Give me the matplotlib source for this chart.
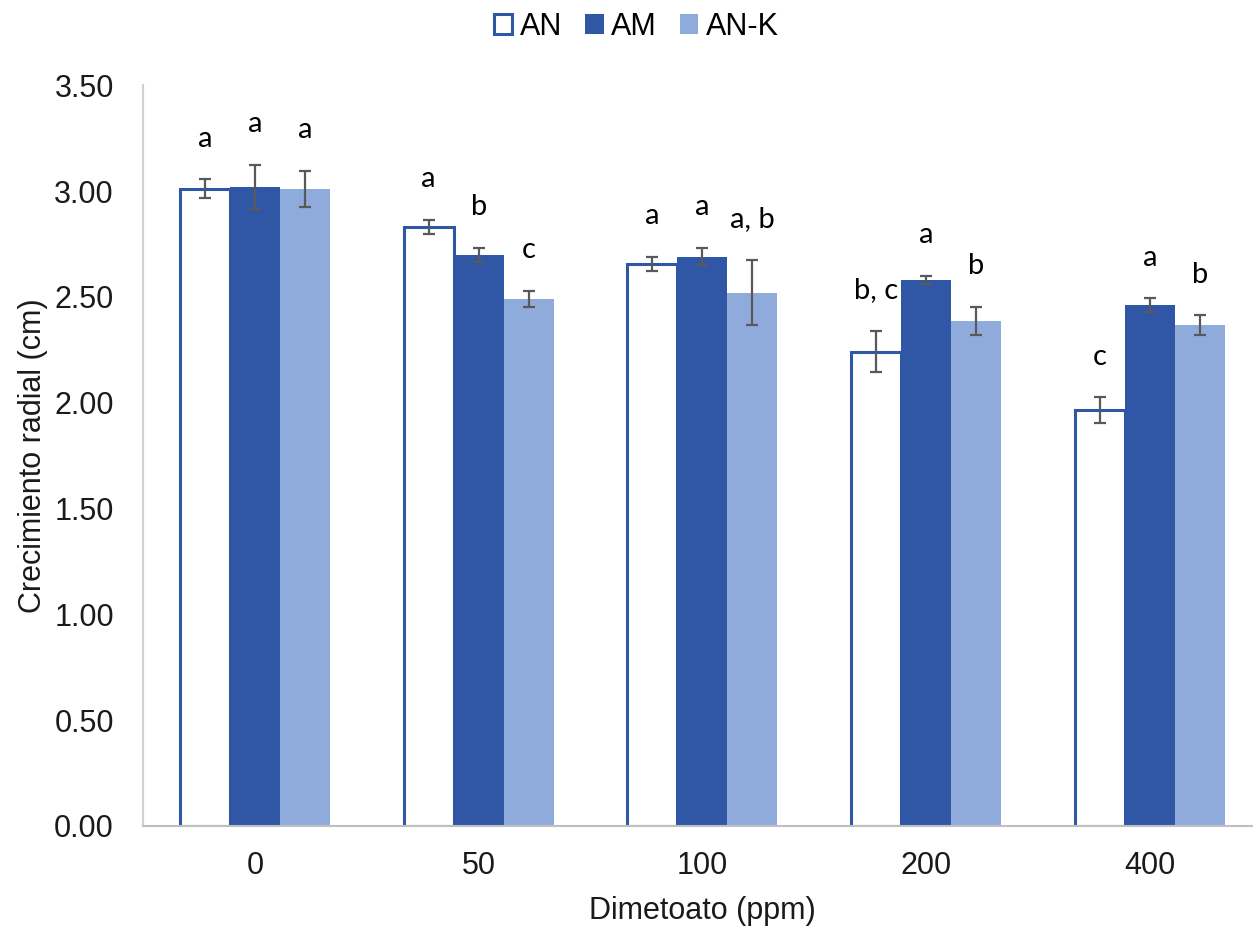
import numpy as np
import matplotlib
matplotlib.use('Agg')
import matplotlib.pyplot as plt

plt.rcParams['font.family'] = ['Liberation Sans', 'DejaVu Sans']

# data
dosis = ['0', '50', '100', '200', '400']
series = ['AN', 'AM', 'AN-K']

an_vals = [3.01, 2.83, 2.655, 2.24, 1.965]
am_vals = [3.02, 2.70, 2.69, 2.58, 2.46]
ank_vals = [3.01, 2.49, 2.52, 2.385, 2.365]

an_err = [0.045, 0.033, 0.033, 0.097, 0.06]
am_err = [0.105, 0.033, 0.04, 0.02, 0.033]
ank_err = [0.085, 0.038, 0.155, 0.066, 0.047]

an_lbl = ['a', 'a', 'a', 'b, c', 'c']
am_lbl = ['a', 'b', 'a', 'a', 'a']
ank_lbl = ['a', 'c', 'a, b', 'b', 'b']

dark = '#2F57A6'
light = '#8FABDC'
errc = '#595959'

fig = plt.figure(figsize=(12.53, 9.26), dpi=100)
ax = fig.add_axes([0.1141, 0.108, 0.893, 0.8])

x = np.arange(len(dosis))
w = 0.2235

b1 = ax.bar(x - w, an_vals, w, color='white', edgecolor=dark, linewidth=2.2, label='AN', zorder=2)
b2 = ax.bar(x, am_vals, w, color=dark, label='AM', zorder=2)
b3 = ax.bar(x + w, ank_vals, w, color=light, label='AN-K', zorder=2)

for xs, v, e in [(x - w, an_vals, an_err), (x, am_vals, am_err), (x + w, ank_vals, ank_err)]:
    ax.errorbar(xs, v, yerr=e, fmt='none', ecolor=errc, elinewidth=1.6,
                capsize=4, capthick=1.6, zorder=3)

# letters over each bar
for xs, v, e, lb in [(x - w, an_vals, an_err, an_lbl), (x, am_vals, am_err, am_lbl),
                     (x + w, ank_vals, ank_err, ank_lbl)]:
    for xi, vi, ei, t in zip(xs, v, e, lb):
        ax.text(xi, vi + ei + 0.155, t, ha='center', va='baseline', fontsize=21,
                family=['Lato', 'DejaVu Sans'], color='black')

ax.set_xlim(-0.5, 4.5)
ax.set_ylim(0, 3.5)
ax.set_yticks(np.arange(0, 3.51, 0.5))
ax.set_yticklabels(['%.2f' % t for t in np.arange(0, 3.51, 0.5)])
ax.set_xticks(x)
ax.set_xticklabels(dosis)
ax.tick_params(axis='both', length=0, labelsize=22, colors='#1a1a1a')
ax.tick_params(axis='x', pad=18)
ax.tick_params(axis='y', pad=21)

for s in ['top', 'right']:
    ax.spines[s].set_visible(False)
ax.spines['left'].set_color('#D0D0D0')
ax.spines['bottom'].set_color('#BFBFBF')
ax.spines['left'].set_linewidth(1.5)
ax.spines['bottom'].set_linewidth(1.5)

ax.set_xlabel('Dimetoato (ppm)', fontsize=22, labelpad=11, color='#1a1a1a')
ax.set_ylabel('Crecimiento radial (cm)', fontsize=22, labelpad=4, color='#1a1a1a')

fig.legend(handles=[b1, b2, b3], labels=series, loc='center', bbox_to_anchor=(0.508, 0.971),
           ncol=3, frameon=False, fontsize=22, handlelength=0.6, handleheight=0.6,
           handletextpad=0.25, columnspacing=0.75)

fig.savefig('out.png', dpi=100)
